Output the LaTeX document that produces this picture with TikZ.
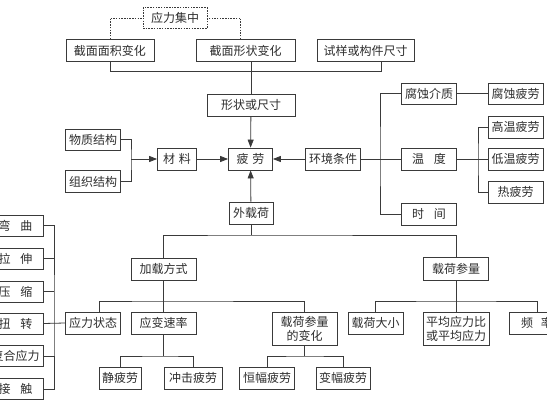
\documentclass[tikz,border=0pt]{standalone}
\usepackage{fontspec}
\newfontfamily\cjk{Noto Sans CJK SC}
\usetikzlibrary{arrows.meta,calc}
\definecolor{linec}{HTML}{3A3A3A}
\definecolor{txtc}{HTML}{2E2E2E}
\tikzset{
  bx/.style={draw=linec, line width=0.8pt, fill=white, inner sep=1pt, minimum height=22pt, text=txtc,
     font=\cjk\fontsize{12}{14}\selectfont, align=center},
  dbx/.style={bx, dash pattern=on 1.5pt off 1.2pt, minimum height=21pt},
  ln/.style={draw=linec, line width=0.8pt},
  dln/.style={ln, dash pattern=on 1.5pt off 1.2pt},
  arr/.style={ln, -{Triangle[length=8pt,width=6pt]}}
}
\newcommand{\gp}[1]{\hspace{#1pt}}
\begin{document}
\begin{tikzpicture}[x=1pt,y=-1pt]
\useasboundingbox (0,0) rectangle (547,405);
\clip (0,0) rectangle (547,405);
% top
\node[dbx, minimum width=64pt] (yljz) at (175,18) {应力集中};
\node[bx, minimum width=88pt] (mj) at (110,50.5) {截面面积变化};
\node[bx, minimum width=99pt] (xz) at (245.5,50.5) {截面形状变化};
\node[bx, minimum width=97pt] (cc) at (365.5,50.5) {试样或构件尺寸};
\node[bx, minimum width=88pt] (xc) at (251,105) {形状或尺寸};
\node[bx, minimum width=44pt] (pl) at (250.5,159) {疲\gp{4}劳};
\node[bx, minimum width=39pt] (cl) at (177,159) {材\gp{4}料};
\node[bx, minimum width=55pt, minimum height=21pt] (wz) at (93,139.5) {物质结构};
\node[bx, minimum width=55pt] (zz) at (93,181.5) {组织结构};
\node[bx, minimum width=55pt] (hj) at (333,159) {环境条件};
\node[bx, minimum width=55pt, minimum height=21pt] (fs) at (429,93.5) {腐蚀介质};
\node[bx, minimum width=55pt, minimum height=21pt] (fp) at (515.5,93.5) {腐蚀疲劳};
\node[bx, minimum width=55pt] (wd) at (429,159) {温\gp{10}度};
\node[bx, minimum width=55pt] (sj) at (429,214) {时\gp{10}间};
\node[bx, minimum width=55pt] (gw) at (515.5,127) {高温疲劳};
\node[bx, minimum width=55pt] (dw) at (515.5,159) {低温疲劳};
\node[bx, minimum width=55pt] (rp) at (515.5,192) {热疲劳};
% lower
\node[bx, minimum width=44pt] (wzh) at (251,213) {外载荷};
\node[bx, minimum width=65pt] (jz) at (163.5,269) {加载方式};
\node[bx, minimum width=65pt, minimum height=23pt] (hc) at (456,268.5) {载荷参量};
\node[bx, minimum width=55pt] (ys) at (93,323) {应力状态};
\node[bx, minimum width=65pt] (yb) at (163.5,323) {应变速率};
\node[bx, minimum width=65pt, minimum height=33pt] (hcb) at (304.5,328.5) {载荷参量\\的变化};
\node[bx, minimum width=55pt] (hdx) at (375.5,323) {载荷大小};
\node[bx, minimum width=66pt, minimum height=33pt] (pj) at (456,328.5) {平均应力比\\或平均应力};
\node[bx, minimum width=55pt] (pl2) at (537,323) {频\gp{8}率};
\node[bx, minimum width=55pt, minimum height=21pt] (wq) at (15.5,225.5) {弯\gp{10}曲};
\node[bx, minimum width=55pt, minimum height=21pt] (ls) at (15.5,258.5) {拉\gp{10}伸};
\node[bx, minimum width=55pt, minimum height=21pt] (ys2) at (15.5,291.5) {压\gp{10}缩};
\node[bx, minimum width=55pt, minimum height=21pt] (nz) at (15.5,323.5) {扭\gp{10}转};
\node[bx, minimum width=55pt, minimum height=21pt] (fh) at (15.5,356) {复合应力};
\node[bx, minimum width=55pt, minimum height=21pt] (jc) at (15.5,389) {接\gp{10}触};
\node[bx, minimum width=42pt] (jp) at (120,378) {静疲劳};
\node[bx, minimum width=58pt] (cj) at (193,378) {冲击疲劳};
\node[bx, minimum width=55pt] (hf) at (267,378) {恒幅疲劳};
\node[bx, minimum width=54pt] (bf) at (343,378) {变幅疲劳};
% coordinates
\coordinate (h1) at (250,71);
\coordinate (b1) at (131,159);
\coordinate (e1) at (380,159);
\coordinate (e2) at (478,159);
\coordinate (l1) at (251,235);
\coordinate (l2) at (163.5,301);
\coordinate (l3) at (456,301);
\coordinate (b2) at (54,323.5);
\coordinate (l4) at (163.5,356);
\coordinate (l5) at (304.5,356);
% dashed links
\draw[dln] (mj.north) |- (yljz.west);
\draw[dln] ($(xz.north)+(-5,0)$) |- (yljz.east);
% top solid
\draw[ln] (mj.south) |- (h1);
\draw[ln] ($(cc.south)+(15.5,0)$) |- (h1);
\draw[ln] (xz.south -| xc.north) -- (xc.north);
\draw[arr] (xc) -- (pl);
% material
\draw[ln] (wz.east) -| (b1) |- (zz.east);
\draw[arr] (b1) -- (cl.west);
\draw[arr] (cl) -- (pl);
% environment
\draw[arr] (hj) -- (pl);
\draw[ln] (hj.east) -- (wd.west);
\draw[ln] (fs.west) -| (e1) |- (sj.west);
\draw[ln] (fs) -- (fp);
\draw[ln] (wd.east) -- (dw.west);
\draw[ln] (gw.west) -| (e2) |- (rp.west);
% load
\draw[arr] (wzh) -- (pl);
\draw[ln] (wzh.south) -- (l1);
\draw[ln] (jz.north) |- (l1) -| (hc.north);
\draw[ln] (jz.south) -- (yb.north);
\draw[ln] ($(ys.north)+(6,0)$) |- (l2) -| (hcb.north);
\draw[ln] (hc.south) -- (pj.north);
\draw[ln] (hdx.north) |- (l3) -| (pl2.north);
% stress state
\draw[ln] (wq.east) -| (b2) |- (jc.east);
\draw[ln] (ls.east) -- (ls.east -| b2);
\draw[ln] (ys2.east) -- (ys2.east -| b2);
\draw[ln] (fh.east) -- (fh.east -| b2);
\draw[ln] (nz.east) -- (ys.west);
% strain rate
\draw[ln] (yb.south) -- (l4);
\draw[ln] (jp.north) |- (l4) -| (cj.north);
\draw[ln] (hcb.south) -- (l5);
\draw[ln] (hf.north) |- (l5) -| (bf.north);
\end{tikzpicture}
\end{document}
